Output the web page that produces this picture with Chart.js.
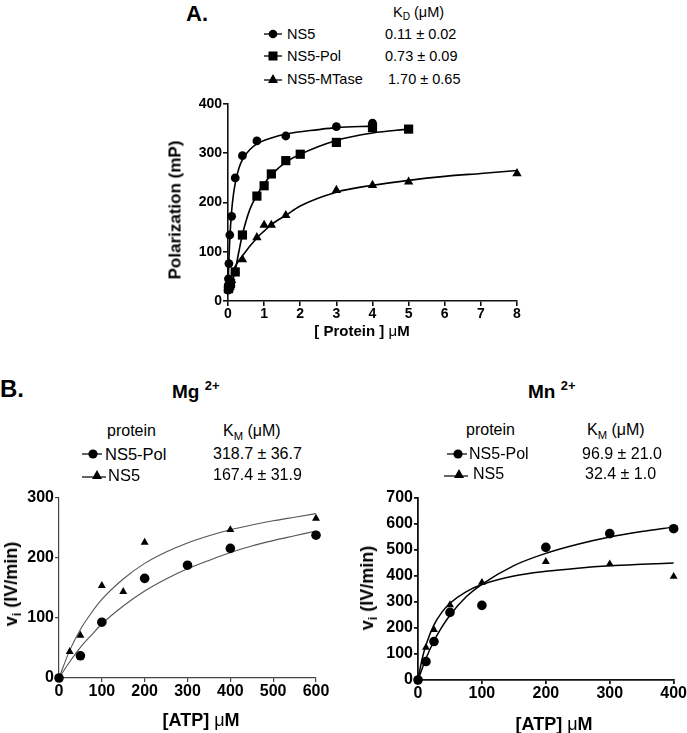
<!DOCTYPE html>
<html>
<head>
<meta charset="utf-8">
<script src="https://cdn.jsdelivr.net/npm/chart.js@4/dist/chart.umd.min.js"></script>
<style>
  html, body { margin:0; padding:0; background:#fff; }
  body { width:687px; height:733px; position:relative; overflow:hidden; font-family:"Liberation Sans", Arial, sans-serif; color:#000; }
  canvas { position:absolute; }
  .t { position:absolute; white-space:nowrap; line-height:1; }
  .c { transform:translate(-50%,-50%); }
  .l { transform:translateY(-50%); }
  .r { transform:translate(-50%,-50%) rotate(-90deg); }
  .b { font-weight:bold; }
  sub { font-size:70%; vertical-align:-0.35em; line-height:0; }
  sup { font-size:68%; vertical-align:0.55em; line-height:0; }
  svg.m { position:absolute; transform:translate(-50%,-50%); overflow:visible; }
</style>
</head>
<body>
<canvas id="cA" width="400" height="250" style="left:150px;top:90px"></canvas>
<canvas id="cMg" width="340" height="253" style="left:0px;top:480px"></canvas>
<canvas id="cMn" width="347" height="253" style="left:340px;top:480px"></canvas>

<!-- Panel A texts -->
<div class="t b l" style="left:186px;top:14px;font-size:22px">A.</div>
<div class="t l" style="left:393px;top:12px;font-size:14.5px">K<sub>D</sub> (μM)</div>
<svg class="m" style="left:273px;top:34px" width="14" height="10"><line x1="-2" y1="5" x2="16" y2="5" stroke="#000" stroke-width="1.3"/><circle cx="7" cy="5" r="4.3" fill="#000"/></svg>
<div class="t l" style="left:287px;top:34px;font-size:14.5px">NS5</div>
<div class="t l" style="left:385px;top:34px;font-size:14.5px">0.11 ± 0.02</div>
<svg class="m" style="left:273px;top:56px" width="14" height="10"><line x1="-2" y1="5" x2="16" y2="5" stroke="#000" stroke-width="1.3"/><rect x="2.5" y="0.5" width="9" height="9" fill="#000"/></svg>
<div class="t l" style="left:287px;top:56px;font-size:14.5px">NS5-Pol</div>
<div class="t l" style="left:385px;top:56px;font-size:14.5px">0.73 ± 0.09</div>
<svg class="m" style="left:273px;top:79px" width="14" height="10"><line x1="-2" y1="6" x2="16" y2="6" stroke="#000" stroke-width="1.3"/><polygon points="7,0 12,9 2,9" fill="#000"/></svg>
<div class="t l" style="left:287px;top:79px;font-size:14.5px">NS5-MTase</div>
<div class="t l" style="left:388px;top:79px;font-size:14.5px">1.70 ± 0.65</div>
<div class="t b r" style="left:175px;top:210px;font-size:17px">Polarization (mP)</div>
<div class="t b c" style="left:362px;top:330px;font-size:15px">[ Protein ] <span style="font-weight:normal">μ</span>M</div>

<!-- Panel B texts -->
<div class="t b l" style="left:0px;top:389px;font-size:24px">B.</div>
<div class="t b l" style="left:172px;top:391px;font-size:19px">Mg <sup>2+</sup></div>
<div class="t b l" style="left:528px;top:391px;font-size:19px">Mn <sup>2+</sup></div>

<div class="t l" style="left:107px;top:431px;font-size:16px">protein</div>
<div class="t l" style="left:223px;top:431px;font-size:16px">K<sub>M</sub> (μM)</div>
<svg class="m" style="left:93px;top:454px" width="14" height="10"><line x1="-4" y1="5" x2="16" y2="5" stroke="#000" stroke-width="1.2"/><circle cx="7" cy="5" r="4.6" fill="#000"/></svg>
<div class="t l" style="left:105px;top:454px;font-size:16.5px">NS5-Pol</div>
<div class="t l" style="left:213px;top:454px;font-size:16px">318.7 ± 36.7</div>
<svg class="m" style="left:97px;top:475px" width="12" height="10"><line x1="-9" y1="7" x2="15" y2="7" stroke="#000" stroke-width="1.2"/><polygon points="6,0 11,9 1,9" fill="#000"/></svg>
<div class="t l" style="left:108px;top:475px;font-size:16.5px">NS5</div>
<div class="t l" style="left:213px;top:475px;font-size:16px">167.4 ± 31.9</div>

<div class="t l" style="left:466px;top:430px;font-size:16px">protein</div>
<div class="t l" style="left:587px;top:430px;font-size:16px">K<sub>M</sub> (μM)</div>
<svg class="m" style="left:458px;top:454px" width="14" height="10"><line x1="-4" y1="5" x2="16" y2="5" stroke="#000" stroke-width="1.2"/><circle cx="7" cy="5" r="4.6" fill="#000"/></svg>
<div class="t l" style="left:469px;top:454px;font-size:16px">NS5-Pol</div>
<div class="t l" style="left:582px;top:454px;font-size:16px">96.9 ± 21.0</div>
<svg class="m" style="left:459px;top:474px" width="12" height="10"><line x1="-9" y1="7" x2="15" y2="7" stroke="#000" stroke-width="1.2"/><polygon points="6,0 11,9 1,9" fill="#000"/></svg>
<div class="t l" style="left:473px;top:474px;font-size:16px">NS5</div>
<div class="t l" style="left:585px;top:474px;font-size:16px">32.4 ± 1.0</div>

<div class="t b r" style="left:11px;top:584px;font-size:18px">v<sub>i</sub> (IV/min)</div>
<div class="t b c" style="left:201px;top:720px;font-size:18px">[ATP] <span style="font-weight:normal">μ</span>M</div>
<div class="t b r" style="left:367px;top:588px;font-size:18px">v<sub>i</sub> (IV/min)</div>
<div class="t b c" style="left:554px;top:724px;font-size:18px">[ATP] <span style="font-weight:normal">μ</span>M</div>

<script>
// ---------- Panel A: polarization binding ----------
const aNS5X   = [0.003, 0.006, 0.0125, 0.025, 0.05, 0.1, 0.2, 0.4, 0.8, 1.6, 3, 4, 4];
const aNS5Y   = [22, 28, 45, 76, 134, 172, 250, 295, 325, 335, 354, 361, 356];
const aPolX   = [0.0125, 0.025, 0.05, 0.07, 0.2, 0.4, 0.8, 1.0, 1.2, 1.6, 2, 3, 4, 5];
const aPolY   = [25, 28, 32, 36, 59, 134, 213, 234, 258, 285, 298, 322, 352, 349];
const aMTX    = [0.05, 0.1, 0.2, 0.4, 0.8, 1.0, 1.2, 1.6, 3, 4, 5, 8];
const aMTY    = [32, 42, 62, 84, 129, 154, 154, 174, 225, 235, 242, 259];
// fitted curves
const aFitNS5X = [0, 0.025, 0.05, 0.1, 0.15, 0.2, 0.3, 0.4, 0.6, 0.8, 1.2, 1.6, 2.5, 3, 4];
const aFitNS5Y = [20, 83, 126, 182, 216, 239, 269, 287, 307, 319, 331, 339, 348, 352, 355];
const aFitPolX = [0, 0.1, 0.2, 0.3, 0.4, 0.6, 0.8, 1.0, 1.2, 1.6, 2, 3, 4, 5];
const aFitPolY = [25, 35, 62, 100, 135, 185, 215, 238, 256, 282, 298, 326, 341, 349];
const aFitMTX  = [0.15, 0.2, 0.4, 0.8, 1.0, 1.2, 1.6, 2, 3, 4, 5, 6, 7, 8];
const aFitMTY  = [60, 70, 92, 128, 142, 155, 174, 193, 221, 235, 245, 253, 259, 265];
const aXTicks = [0, 8, 1];
const aYTicks = [0, 400, 100];

// ---------- Panel B: Mg2+ ----------
const mgPolX = [0, 50, 100, 200, 300, 400, 600];
const mgPolY = [0, 37, 93, 166, 188, 216, 238];
const mgNS5X = [0, 25, 50, 100, 150, 200, 400, 600];
const mgNS5Y = [0, 44, 71, 154, 144, 226, 247, 266];
const mgFitX    = [0, 25, 50, 75, 100, 150, 200, 250, 300, 350, 400, 450, 500, 550, 600];
const mgFitPolY = [0, 27, 51, 71, 90, 120, 145, 165, 182, 196, 209, 220, 229, 237, 245];
const mgFitNS5Y = [0, 46, 81, 108, 131, 165, 191, 210, 225, 237, 247, 255, 262, 268, 274];
const mgXTicks = [0, 600, 100];
const mgYTicks = [0, 300, 100];

// ---------- Panel B: Mn2+ ----------
const mnPolX = [0, 12.5, 25, 50, 100, 200, 300, 400];
const mnPolY = [0, 71, 148, 260, 287, 510, 563, 582];
const mnNS5X = [0, 12.5, 25, 50, 100, 200, 300, 400];
const mnNS5Y = [0, 125, 193, 289, 375, 455, 446, 398];
const mnFitPolX = [0, 12.5, 25, 37.5, 50, 75, 100, 150, 200, 250, 300, 350, 400];
const mnFitPolY = [0, 83, 150, 204, 249, 319, 368, 440, 487, 522, 550, 571, 588];
const mnFitNS5X = [0, 6.25, 12.5, 25, 37.5, 50, 75, 100, 150, 200, 250, 300, 350, 400];
const mnFitNS5Y = [0, 79, 135, 212, 261, 295, 339, 367, 400, 418, 430, 439, 445, 450];
const mnXTicks = [0, 400, 100];
const mnYTicks = [0, 700, 100];

const FONT = "'Liberation Sans', Arial, sans-serif";
const zip = (xs, ys) => xs.map((x, i) => ({ x, y: ys[i] }));

function pts(xs, ys, style, r) {
  return { type: 'scatter', data: zip(xs, ys), pointStyle: style, pointRadius: r, pointHoverRadius: r,
           backgroundColor: '#000', borderColor: '#000', borderWidth: 0, showLine: false, clip: false, order: 1 };
}
function fit(xs, ys, color, w) {
  return { type: 'scatter', data: zip(xs, ys), showLine: true, pointRadius: 0, pointHoverRadius: 0,
           borderColor: color, borderWidth: w, cubicInterpolationMode: 'monotone', fill: false, clip: false, order: 2 };
}
function axis(t, w, h, fontSize, axisColor, lw, tickLen, isX) {
  return {
    type: 'linear', min: t[0], max: t[1],
    ticks: { stepSize: t[2], color: '#000', font: { family: FONT, size: fontSize, weight: 'bold' }, padding: isX ? 0 : 1, maxRotation: 0, autoSkip: false },
    grid: { display: true, drawOnChartArea: false, drawTicks: true, tickLength: tickLen, color: axisColor, lineWidth: lw },
    border: { display: true, color: axisColor, width: lw },
    title: { display: false },
    afterFit: s => { if (isX) s.height = h; else s.width = w; }
  };
}
function make(id, datasets, xT, yT, cfg) {
  new Chart(document.getElementById(id), {
    type: 'scatter',
    data: { datasets },
    options: {
      responsive: false, animation: false, devicePixelRatio: 1,
      layout: { padding: { left: 0, top: cfg.pt, right: cfg.pr, bottom: 0 } },
      plugins: { legend: { display: false }, tooltip: { enabled: false } },
      scales: {
        x: axis(xT, 0, cfg.xh, cfg.fs, cfg.ac, cfg.lw, cfg.tl, true),
        y: axis(yT, cfg.yw, 0, cfg.fs, cfg.ac, cfg.lw, cfg.tl, false)
      }
    }
  });
}

make('cA', [
  fit(aFitNS5X, aFitNS5Y, '#000', 1.6),
  fit(aFitPolX, aFitPolY, '#000', 1.6),
  fit(aFitMTX, aFitMTY, '#000', 1.6),
  pts(aNS5X, aNS5Y, 'circle', 4.4),
  pts(aPolX, aPolY, 'rect', 6.5),
  pts(aMTX, aMTY, 'triangle', 5.4)
], aXTicks, aYTicks, { pt: 14, pr: 33, xh: 39, yw: 78, fs: 14, ac: '#111', lw: 1.6, tl: 5 });

make('cMg', [
  fit(mgFitX, mgFitPolY, '#555', 1.1),
  fit(mgFitX, mgFitNS5Y, '#555', 1.1),
  pts(mgPolX, mgPolY, 'circle', 4.8),
  pts(mgNS5X, mgNS5Y, 'triangle', 4.6)
], mgXTicks, mgYTicks, { pt: 18, pr: 24, xh: 55, yw: 59, fs: 16, ac: '#444', lw: 1.2, tl: 4 });

make('cMn', [
  fit(mnFitPolX, mnFitPolY, '#000', 1.5),
  fit(mnFitNS5X, mnFitNS5Y, '#000', 1.5),
  pts(mnPolX, mnPolY, 'circle', 4.8),
  pts(mnNS5X, mnNS5Y, 'triangle', 4.6)
], mnXTicks, mnYTicks, { pt: 18, pr: 12, xh: 53, yw: 78, fs: 16, ac: '#111', lw: 1.8, tl: 4 });
</script>
</body>
</html>
